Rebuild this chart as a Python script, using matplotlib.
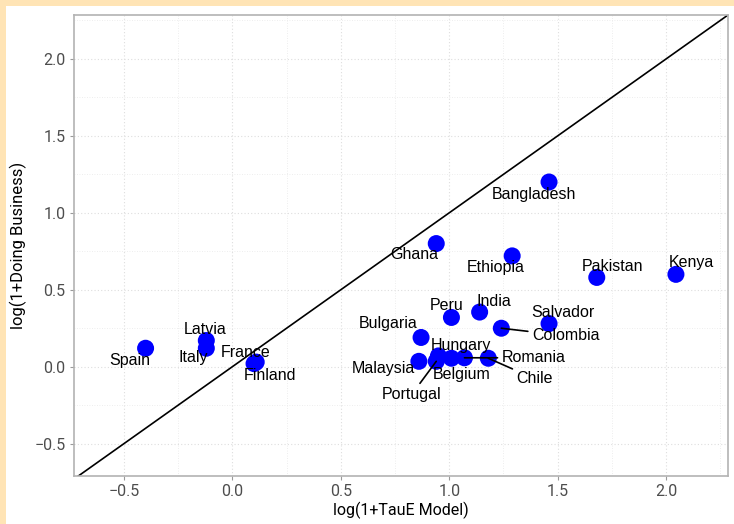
import matplotlib
matplotlib.use('Agg')
import matplotlib.pyplot as plt
from matplotlib.patches import Rectangle
from matplotlib.ticker import MultipleLocator

# countries and their two log scores
countries = ["Spain", "Latvia", "Italy", "France", "Finland", "Ghana", "Bangladesh",
             "Ethiopia", "Pakistan", "Kenya", "Peru", "India", "Salvador", "Colombia",
             "Bulgaria", "Hungary", "Malaysia", "Portugal", "Belgium", "Romania", "Chile"]
tau_model = [-0.40, -0.12, -0.12, 0.11, 0.10, 0.94, 1.46,
             1.29, 1.68, 2.045, 1.01, 1.14, 1.46, 1.24,
             0.87, 0.95, 0.86, 0.94, 1.01, 1.07, 1.18]
doing_business = [0.12, 0.17, 0.12, 0.03, 0.02, 0.80, 1.20,
                  0.72, 0.58, 0.60, 0.32, 0.355, 0.28, 0.25,
                  0.19, 0.07, 0.035, 0.035, 0.055, 0.058, 0.055]

# where each label sits (repelled text positions)
label_pos = {
    "Spain": (-0.475, 0.04), "Latvia": (-0.125, 0.24), "Italy": (-0.18, 0.058),
    "France": (0.06, 0.09), "Finland": (0.175, -0.058), "Ghana": (0.84, 0.727),
    "Bangladesh": (1.39, 1.117), "Ethiopia": (1.214, 0.643), "Pakistan": (1.754, 0.649),
    "Kenya": (2.118, 0.675), "Peru": (0.988, 0.396), "India": (1.204, 0.422),
    "Salvador": (1.523, 0.35), "Colombia": (1.537, 0.201), "Bulgaria": (0.72, 0.279),
    "Hungary": (1.052, 0.136), "Malaysia": (0.697, -0.013), "Portugal": (0.826, -0.182),
    "Belgium": (1.057, -0.052), "Romania": (1.389, 0.058), "Chile": (1.394, -0.078),
}
with_segment = ["Colombia", "Portugal", "Romania", "Chile"]

axis_font = 'Roboto'

fig = plt.figure(figsize=(7.34, 5.24), dpi=100, facecolor='#ffe4b5')
fig.patches.append(Rectangle((6 / 734, 0), 1, 1 - 6 / 524, transform=fig.transFigure,
                             facecolor='white', edgecolor='none', zorder=-5))
ax = fig.add_axes([74 / 734, 1 - 476 / 524, (728 - 74) / 734, (476 - 15) / 524])

ax.set_xlim(-0.73, 2.285)
ax.set_ylim(-0.71, 2.285)

# 45 degree reference line
ax.plot([-1, 3], [-1, 3], color='black', lw=1.2, zorder=2)

ax.scatter(tau_model, doing_business, s=150, color='blue', edgecolors='none', zorder=3)

for name, x, y in zip(countries, tau_model, doing_business):
    lx, ly = label_pos[name]
    if name in with_segment:
        ax.annotate(name, xy=(x, y), xytext=(lx, ly), ha='center', va='center',
                    fontsize=11.5, family='Liberation Sans', color='black',
                    arrowprops=dict(arrowstyle='-', color='black', lw=1.2,
                                    shrinkA=1, shrinkB=0), zorder=4)
    else:
        ax.text(lx, ly, name, ha='center', va='center', fontsize=11.5,
                family='Liberation Sans', color='black', zorder=4)

ax.xaxis.set_major_locator(MultipleLocator(0.5))
ax.yaxis.set_major_locator(MultipleLocator(0.5))
ax.xaxis.set_minor_locator(MultipleLocator(0.25))
ax.yaxis.set_minor_locator(MultipleLocator(0.25))
ax.grid(which='major', color='#dedede', ls=(0, (1, 2)), lw=0.8, zorder=0)
ax.grid(which='minor', color='#e8e8e8', ls=(0, (1, 2)), lw=0.6, zorder=0)
ax.set_axisbelow(True)

ax.tick_params(which='major', length=3, color='#9a9a9a', labelcolor='#4d4d4d',
               labelsize=11.5, pad=3)
ax.tick_params(which='minor', length=0)
for lab in ax.get_xticklabels() + ax.get_yticklabels():
    lab.set_family(axis_font)

for sp in ax.spines.values():
    sp.set_color('#b3b3b3')
    sp.set_linewidth(1.2)

ax.set_xlabel('log(1+TauE Model)', fontsize=11.5, family=axis_font, labelpad=2)
ax.set_ylabel('log(1+Doing Business)', fontsize=12, family=axis_font, labelpad=5)

fig.savefig('out.png', dpi=100, facecolor=fig.get_facecolor())
